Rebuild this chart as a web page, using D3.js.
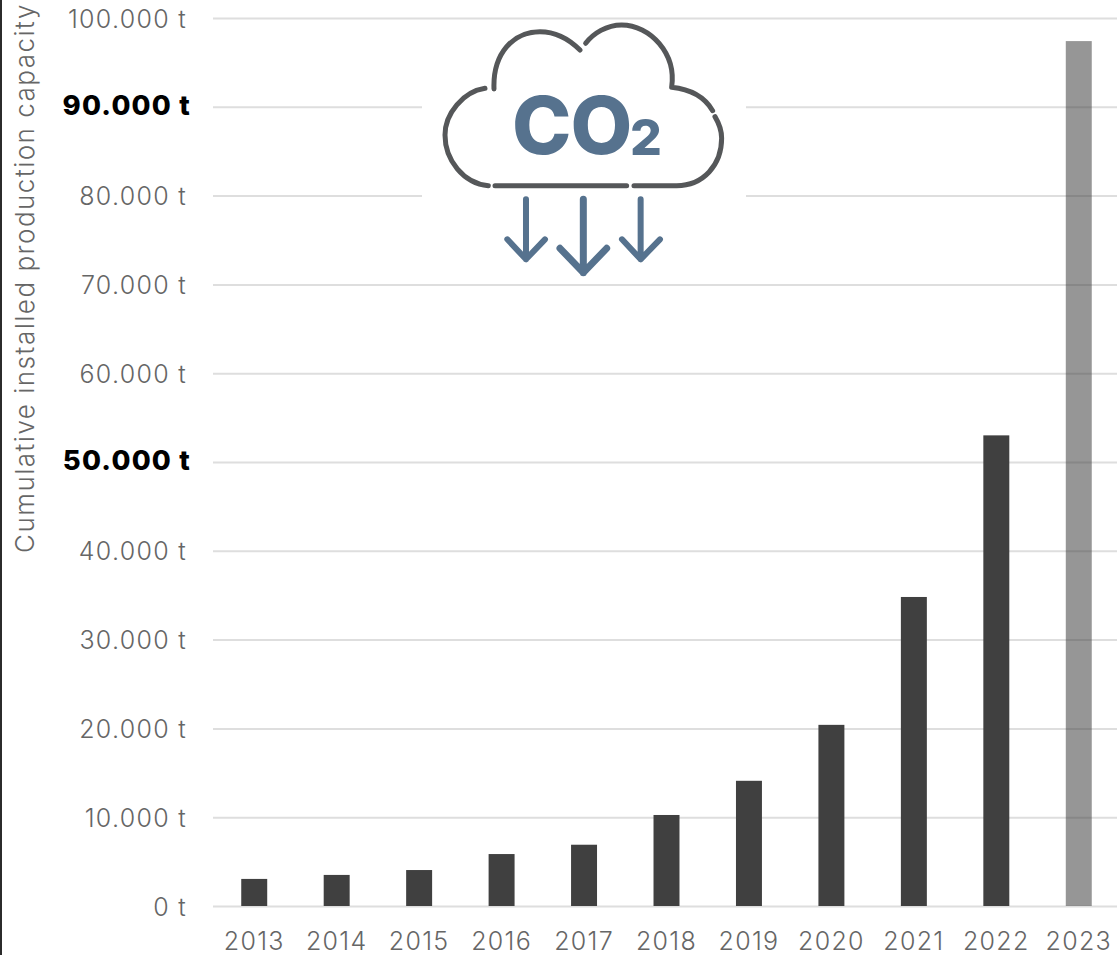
<!DOCTYPE html>
<html>
<head>
<meta charset="utf-8">
<script src="https://cdn.jsdelivr.net/npm/d3@7"></script>
<style>
  html, body { margin: 0; padding: 0; background: #fff; overflow: hidden; }
  svg { display: block; }
  text { font-family: Inter, "Open Sans", sans-serif; }
  .grid line { stroke: #dedede; stroke-width: 2px; }
  .grid path { display: none; }
  .axis path, .axis line { display: none; }
  .axis text { fill: #666; font-size: 25px; font-weight: 300; letter-spacing: 1.3px; }
  .axis text.strong { fill: #000; font-weight: 800; font-size: 27.5px; letter-spacing: 1.2px; }
  .title { fill: #666; font-size: 26px; font-weight: 300; letter-spacing: 1.5px; }
  .cloud { fill: none; stroke: #555759; stroke-linecap: round; stroke-linejoin: round; }
  .arrow { fill: none; stroke: #56728e; stroke-linecap: round; stroke-linejoin: round; }
  .co2 { fill: #56728e; font-family: Inter, sans-serif; font-weight: 800; }
</style>
</head>
<body>
<div id="chart"></div>
<script>
const years = [2013, 2014, 2015, 2016, 2017, 2018, 2019, 2020, 2021, 2022, 2023];
const capacity = [3050, 3500, 4050, 5850, 6900, 10250, 14100, 20400, 34800, 53000, 97400];
const forecastYears = [2023];
const highlightedTicks = [50000, 90000];
const tickValues = d3.range(0, 100001, 10000);
const yTitle = "Cumulative installed production capacity";

const width = 1117, height = 955;
const gridLeft = 213, plotRight = 1120, yBase = 906, yTop = 18;

const svg = d3.select("#chart").append("svg")
  .attr("width", width).attr("height", height);

const x = d3.scaleBand().domain(years).range([gridLeft, plotRight]).paddingInner(0.685).paddingOuter(0.3425);
const y = d3.scaleLinear().domain([0, 100000]).range([yBase, yTop]);

// Thousands are separated with a dot in the tick labels
const fmt = d3.formatLocale({ decimal: ",", thousands: ".", grouping: [3], currency: ["", ""] }).format(",d");

// Frame edge on the left side of the page
svg.append("rect").attr("x", 0).attr("y", 0).attr("width", 2).attr("height", height).attr("fill", "#2b2b2b");

// Horizontal gridlines
svg.append("g").attr("class", "grid")
  .attr("transform", `translate(${gridLeft},0)`)
  .call(d3.axisLeft(y).tickValues(tickValues).tickSize(-(plotRight - gridLeft)).tickFormat(""));

// Bars; the forecast year is lighter and lets the gridline show through
svg.append("g").selectAll("rect").data(years).join("rect")
  .attr("x", d => x(d))
  .attr("width", x.bandwidth())
  .attr("y", (d, i) => y(capacity[i]))
  .attr("height", (d, i) => y(0) - y(capacity[i]))
  .attr("fill", "#404040")
  .attr("fill-opacity", d => forecastYears.includes(d) ? 0.55 : 1);

// Value axis labels
const yAxis = svg.append("g").attr("class", "axis")
  .attr("transform", "translate(187,0)")
  .call(d3.axisLeft(y).tickValues(tickValues).tickSize(0).tickPadding(0).tickFormat(d => fmt(d) + " t"));
yAxis.selectAll("text")
  .attr("dy", "0.36em")
  .classed("strong", d => highlightedTicks.includes(d))
  .attr("x", d => highlightedTicks.includes(d) ? 4 : 0)
  .attr("y", d => highlightedTicks.includes(d) ? -2 : 0);

// Year labels
svg.append("g").attr("class", "axis")
  .attr("transform", `translate(0,${yBase})`)
  .call(d3.axisBottom(x).tickSize(0).tickPadding(0))
  .selectAll("text").attr("dy", 0).attr("y", 44);

// Rotated axis title
svg.append("text").attr("class", "title")
  .attr("transform", "translate(34,553) rotate(-90)")
  .text(yTitle);

// Cloud icon: a white panel hides the gridlines behind it
const icon = svg.append("g");
icon.append("rect").attr("x", 422).attr("y", 24).attr("width", 324).attr("height", 254).attr("fill", "#fff");
const art = icon.append("g").attr("transform", "translate(420,10) scale(0.3333)");
const cloudPaths = [
  "M225,527 L620,527",
  "M642,527 L770,527 C850,527 905,465 905,385 C905,360 897,340 885,320",
  "M878,302 C850,255 805,237 755,232 C770,130 690,45 605,45 C560,45 520,70 497,100",
  "M480,120 C440,80 400,65 360,65 C280,65 218,130 222,237",
  "M195,235 C130,245 75,310 75,375 C75,450 130,520 205,527"
];
art.selectAll("path.cloud").data(cloudPaths).join("path")
  .attr("class", "cloud").attr("d", d => d).style("stroke-width", "15px");
const arrowPaths = [
  { d: "M318,568 L318,748 M262,688 L318,748 L375,688", w: 18 },
  { d: "M490,568 L490,788 M420,715 L490,788 L560,715", w: 21 },
  { d: "M662,568 L662,748 M606,688 L662,748 L720,688", w: 18 }
];
art.selectAll("path.arrow").data(arrowPaths).join("path")
  .attr("class", "arrow").attr("d", d => d.d).style("stroke-width", d => d.w + "px");
icon.append("text").attr("class", "co2").attr("x", 512).attr("y", 154).attr("font-size", 80).attr("letter-spacing", -1).text("CO");
icon.append("text").attr("class", "co2").attr("x", 630).attr("y", 155).attr("font-size", 50).text("2");
</script>
</body>
</html>
